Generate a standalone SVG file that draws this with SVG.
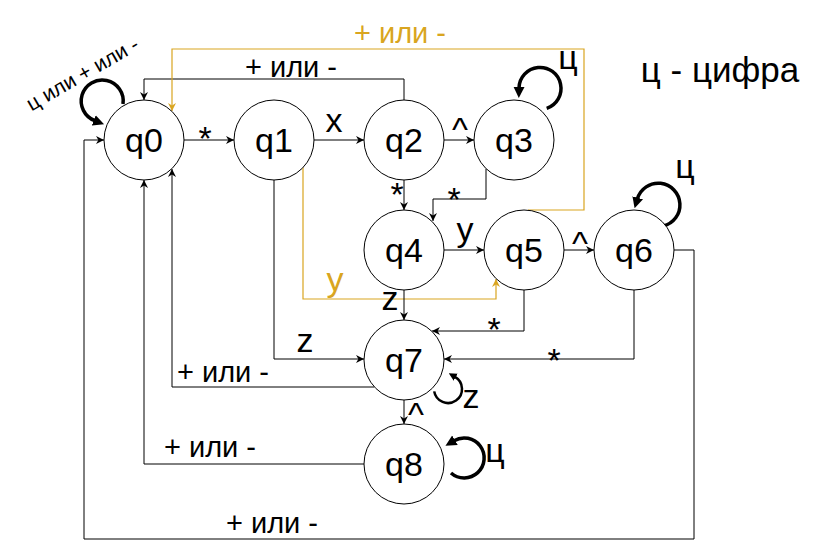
<svg xmlns="http://www.w3.org/2000/svg" width="816" height="551" viewBox="0 0 816 551">
<style>
text{font-family:"Liberation Sans",Arial,sans-serif;fill:#000}
.n{font-size:34px;text-anchor:middle}
.e{font-size:34px;text-anchor:middle}
.b{font-size:34px;text-anchor:middle}
.r{font-size:29px;text-anchor:middle}
.o{fill:#D9A520}
.c{fill:none;stroke:#000;stroke-width:1}
.co{fill:none;stroke:#D9A520;stroke-width:1.2}
.l{fill:none;stroke:#000;stroke-width:3.5}
circle{fill:#fff;stroke:#000;stroke-width:1}
</style>
<defs>
<marker id="a" viewBox="0 0 10 10" refX="10" refY="5" markerWidth="8" markerHeight="8" markerUnits="userSpaceOnUse" orient="auto"><path d="M0,0 L10,5 L0,10 L3,5 z" fill="#000"/></marker>
<marker id="ao" viewBox="0 0 10 10" refX="10" refY="5" markerWidth="8" markerHeight="8" markerUnits="userSpaceOnUse" orient="auto"><path d="M0,0 L10,5 L0,10 L3,5 z" fill="#D9A520"/></marker>
<marker id="t" viewBox="0 0 10 10" refX="1" refY="5" markerWidth="11" markerHeight="12" markerUnits="userSpaceOnUse" orient="auto"><path d="M0,0 L10,5 L0,10 z" fill="#000"/></marker>
<marker id="ts" viewBox="0 0 10 10" refX="1" refY="5" markerWidth="8" markerHeight="9" markerUnits="userSpaceOnUse" orient="auto"><path d="M0,0 L10,5 L0,10 z" fill="#000"/></marker>
</defs>
<g id="connectors">
<path class="c" d="M184,140 H234" marker-end="url(#a)"/>
<path class="c" d="M314,140 H364" marker-end="url(#a)"/>
<path class="c" d="M444,140 H474" marker-end="url(#a)"/>
<path class="c" d="M404,180 V210" marker-end="url(#a)"/>
<path class="c" d="M486,168.6 V199 H433 V221" marker-end="url(#a)"/>
<path class="c" d="M404,100 V79 H144 V100" marker-end="url(#a)"/>
<path class="co" d="M528,210 H584 V49 H172 V111" marker-end="url(#ao)"/>
<path class="co" d="M303,167.5 V299 H496 V279" marker-end="url(#ao)"/>
<path class="c" d="M444,250 H484" marker-end="url(#a)"/>
<path class="c" d="M564,250 H594" marker-end="url(#a)"/>
<path class="c" d="M404,290 V320" marker-end="url(#a)"/>
<path class="c" d="M524,290 V331 H432" marker-end="url(#a)"/>
<path class="c" d="M634,290 V359 H444" marker-end="url(#a)"/>
<path class="c" d="M274,180 V359 H364" marker-end="url(#a)"/>
<path class="c" d="M374,387 H172 V169" marker-end="url(#a)"/>
<path class="c" d="M404,400 V424" marker-end="url(#a)"/>
<path class="c" d="M364,464 H144 V180" marker-end="url(#a)"/>
<path class="c" d="M674,250 H694 V539 H84 V140 H104" marker-end="url(#a)"/>
<path class="l" d="M123,104 A21,21 0 1 0 94.8,120.7" marker-end="url(#t)"/>
<path class="l" d="M546.7,108.3 A21,21 0 1 0 519,88" marker-end="url(#t)"/>
<path class="l" d="M663.3,226 A21.7,21.7 0 1 0 637.4,198.8" marker-end="url(#t)"/>
<path class="l" style="stroke-width:2.5" d="M434.2,391.4 A14,14 0 1 0 455,376.9" marker-end="url(#ts)"/>
<path class="l" d="M451,473 A20,20 0 1 0 454,440.7" marker-end="url(#t)"/>
<text class="e" x="205" y="150">*</text>
<text class="e" x="334" y="132">x</text>
<text class="e" x="460" y="141">^</text>
<text class="e" x="397" y="206">*</text>
<text class="e" x="454" y="211">*</text>
<text class="r" x="291" y="77">+ или -</text>
<text class="r o" x="400" y="43">+ или -</text>
<text class="b" x="465" y="241">y</text>
<text class="b o" x="335" y="291">y</text>
<text class="e" x="580" y="255">^</text>
<text class="b" x="390" y="310">z</text>
<text class="e" x="494" y="341">*</text>
<text class="b" x="305" y="352">z</text>
<text class="e" x="554" y="372">*</text>
<text class="r" x="223" y="382">+ или -</text>
<text class="e" x="416" y="426">^</text>
<text class="r" x="210" y="457">+ или -</text>
<text class="r" x="272" y="533">+ или -</text>
<text class="b" x="471" y="408">z</text>
<text class="n" x="495" y="462">ц</text>
<text class="n" x="568" y="69">ц</text>
<text class="n" x="685" y="178">ц</text>
<text style="font-size:21px;text-anchor:middle" x="86" y="80" transform="rotate(-30 86 80)">ц или + или -</text>
</g>
<g id="q0"><circle cx="144" cy="140" r="40"/><text class="n" x="144" y="152">q0</text></g>
<g id="q1"><circle cx="274" cy="140" r="40"/><text class="n" x="274" y="152">q1</text></g>
<g id="q2"><circle cx="404" cy="140" r="40"/><text class="n" x="404" y="152">q2</text></g>
<g id="q3"><circle cx="514" cy="140" r="40"/><text class="n" x="514" y="152">q3</text></g>
<g id="q4"><circle cx="404" cy="250" r="40"/><text class="n" x="404" y="262">q4</text></g>
<g id="q5"><circle cx="524" cy="250" r="40"/><text class="n" x="524" y="262">q5</text></g>
<g id="q6"><circle cx="634" cy="250" r="40"/><text class="n" x="634" y="262">q6</text></g>
<g id="q7"><circle cx="404" cy="360" r="40"/><text class="n" x="404" y="372">q7</text></g>
<g id="q8"><circle cx="404" cy="464" r="40"/><text class="n" x="404" y="476">q8</text></g>
<g id="legend"><text style="font-size:35px;text-anchor:middle" x="720" y="82">ц - цифра</text></g>
</svg>
